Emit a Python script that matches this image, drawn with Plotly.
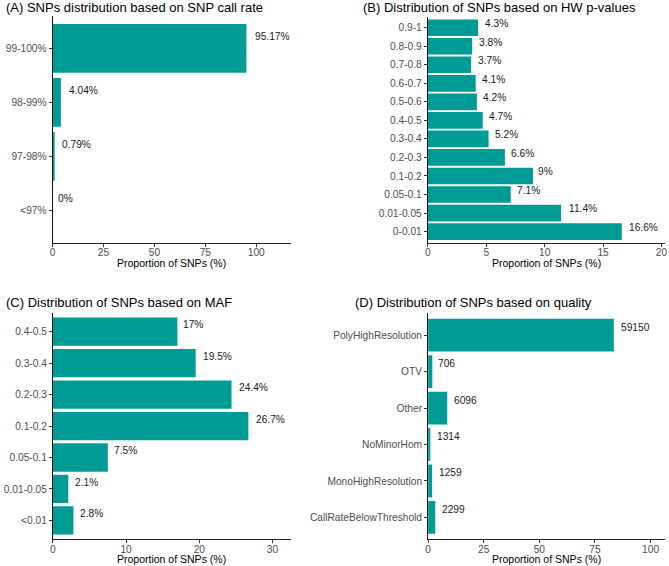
import plotly.graph_objects as go

W, H = 669, 566
TEAL = "#009B95"
FONT = "Liberation Sans, Arial, Helvetica, sans-serif"

# ---------------- data ----------------
a_cats = ["<97%", "97-98%", "98-99%", "99-100%"]
a_vals = [0, 0.79, 4.04, 95.17]
a_labels = ["0%", "0.79%", "4.04%", "95.17%"]

b_cats = ["0-0.01", "0.01-0.05", "0.05-0.1", "0.1-0.2", "0.2-0.3", "0.3-0.4",
          "0.4-0.5", "0.5-0.6", "0.6-0.7", "0.7-0.8", "0.8-0.9", "0.9-1"]
b_vals = [16.6, 11.4, 7.1, 9, 6.6, 5.2, 4.7, 4.2, 4.1, 3.7, 3.8, 4.3]
b_labels = ["16.6%", "11.4%", "7.1%", "9%", "6.6%", "5.2%", "4.7%", "4.2%",
            "4.1%", "3.7%", "3.8%", "4.3%"]

c_cats = ["<0.01", "0.01-0.05", "0.05-0.1", "0.1-0.2", "0.2-0.3", "0.3-0.4", "0.4-0.5"]
c_vals = [2.8, 2.1, 7.5, 26.7, 24.4, 19.5, 17]
c_labels = ["2.8%", "2.1%", "7.5%", "26.7%", "24.4%", "19.5%", "17%"]

d_cats = ["CallRateBelowThreshold", "MonoHighResolution", "NoMinorHom", "Other",
          "OTV", "PolyHighResolution"]
d_vals = [3.2, 1.8, 1.0, 8.6, 1.9, 83.5]
d_labels = ["2299", "1259", "1314", "6096", "706", "59150"]

a_ticks = [0, 25, 50, 75, 100]
b_ticks = [0, 5, 10, 15, 20]
c_ticks = [0, 10, 20, 30]
d_ticks = [0, 25, 50, 75, 100]

titles = ["(A) SNPs distribution based on SNP call rate",
          "(B) Distribution of SNPs based on HW p-values",
          "(C) Distribution of SNPs based on MAF",
          "(D) Distribution of SNPs based on quality"]
x_title = "Proportion of SNPs (%)"

# ---------------- layout geometry (pixels) ----------------
panels = [
    dict(cats=a_cats, vals=a_vals, labels=a_labels, ticks=a_ticks, xmax=117.0,
         xpx=(50, 290), ypx=(16.0, 242.7), title_xy=(1, 7.5), xt_off=20.6),
    dict(cats=b_cats, vals=b_vals, labels=b_labels, ticks=b_ticks, xmax=20.3,
         xpx=(428, 667), ypx=(16.6, 242.7), title_xy=(361, 7.5), xt_off=20.6),
    dict(cats=c_cats, vals=c_vals, labels=c_labels, ticks=c_ticks, xmax=32.5,
         xpx=(50.3, 290), ypx=(312.8, 539.3), title_xy=(1.5, 302.7), xt_off=19.5),
    dict(cats=d_cats, vals=d_vals, labels=d_labels, ticks=d_ticks, xmax=106.5,
         xpx=(428.3, 667), ypx=(313.3, 539.3), title_xy=(353, 302.7), xt_off=19.5),
]

CW = {c: 0.556 for c in "0123456789"}
CW.update({".": 0.278, "%": 0.889})


def text_w(s, size=10):
    return sum(CW.get(ch, 0.556) for ch in s) * size


fig = go.Figure()
annotations = []
layout = {}

for k, p in enumerate(panels):
    sfx = "" if k == 0 else str(k + 1)
    xa, ya = "x" + sfx, "y" + sfx
    n = len(p["cats"])
    idx = list(range(n))
    fig.add_trace(go.Bar(x=p["vals"], y=idx, orientation="h", width=0.9,
                         marker=dict(color=TEAL, line=dict(width=0)),
                         xaxis=xa, yaxis=ya, showlegend=False, hoverinfo="x+y"))
    x0, x1 = p["xpx"]
    y0, y1 = p["ypx"]
    layout["xaxis" + sfx] = dict(
        domain=[x0 / W, x1 / W], anchor=ya, range=[0, p["xmax"]],
        tickvals=p["ticks"], ticks="outside", ticklen=3, tickwidth=1,
        tickcolor="#333333", tickfont=dict(size=10.2, color="#4D4D4D", family=FONT),
        ticklabelstandoff=-3, ticklabeloverflow="allow",
        showline=True, linecolor="#222222", linewidth=1, showgrid=False,
        zeroline=False, fixedrange=True)
    layout["yaxis" + sfx] = dict(
        domain=[1 - y1 / H, 1 - y0 / H], anchor=xa, range=[-0.6, n - 1 + 0.6],
        tickvals=idx, ticktext=p["cats"], ticks="outside", ticklen=3, tickwidth=1,
        tickcolor="#333333", tickfont=dict(size=10.2, color="#4D4D4D", family=FONT),
        ticklabeloverflow="allow",
        showline=True, linecolor="#111111", linewidth=1, showgrid=False,
        zeroline=False, fixedrange=True)
    # value labels
    for i, (v, lab) in enumerate(zip(p["vals"], p["labels"])):
        annotations.append(dict(
            x=v, y=i + 0.22, xref=xa, yref=ya, text=lab, showarrow=False,
            xanchor="left", yanchor="middle", xshift=0.2 * text_w(lab),
            font=dict(size=10.2, color="#1A1A1A", family=FONT)))
    # panel title
    tx, ty = p["title_xy"]
    annotations.append(dict(
        x=tx / W, y=1 - ty / H, xref="paper", yref="paper", text=titles[k],
        showarrow=False, xanchor="left", yanchor="middle",
        font=dict(size=13, color="#000000", family=FONT)))
    # x axis title
    annotations.append(dict(
        x=(x0 + x1) / 2 / W, y=1 - (y1 + p["xt_off"]) / H, xref="paper", yref="paper",
        text=x_title, showarrow=False, xanchor="center", yanchor="middle",
        font=dict(size=10.5, color="#000000", family=FONT)))

fig.update_layout(
    width=W, height=H, margin=dict(l=0, r=0, t=0, b=0),
    paper_bgcolor="white", plot_bgcolor="white",
    font=dict(family=FONT), annotations=annotations, bargap=0.1, **layout)

fig.write_html("out.html")
